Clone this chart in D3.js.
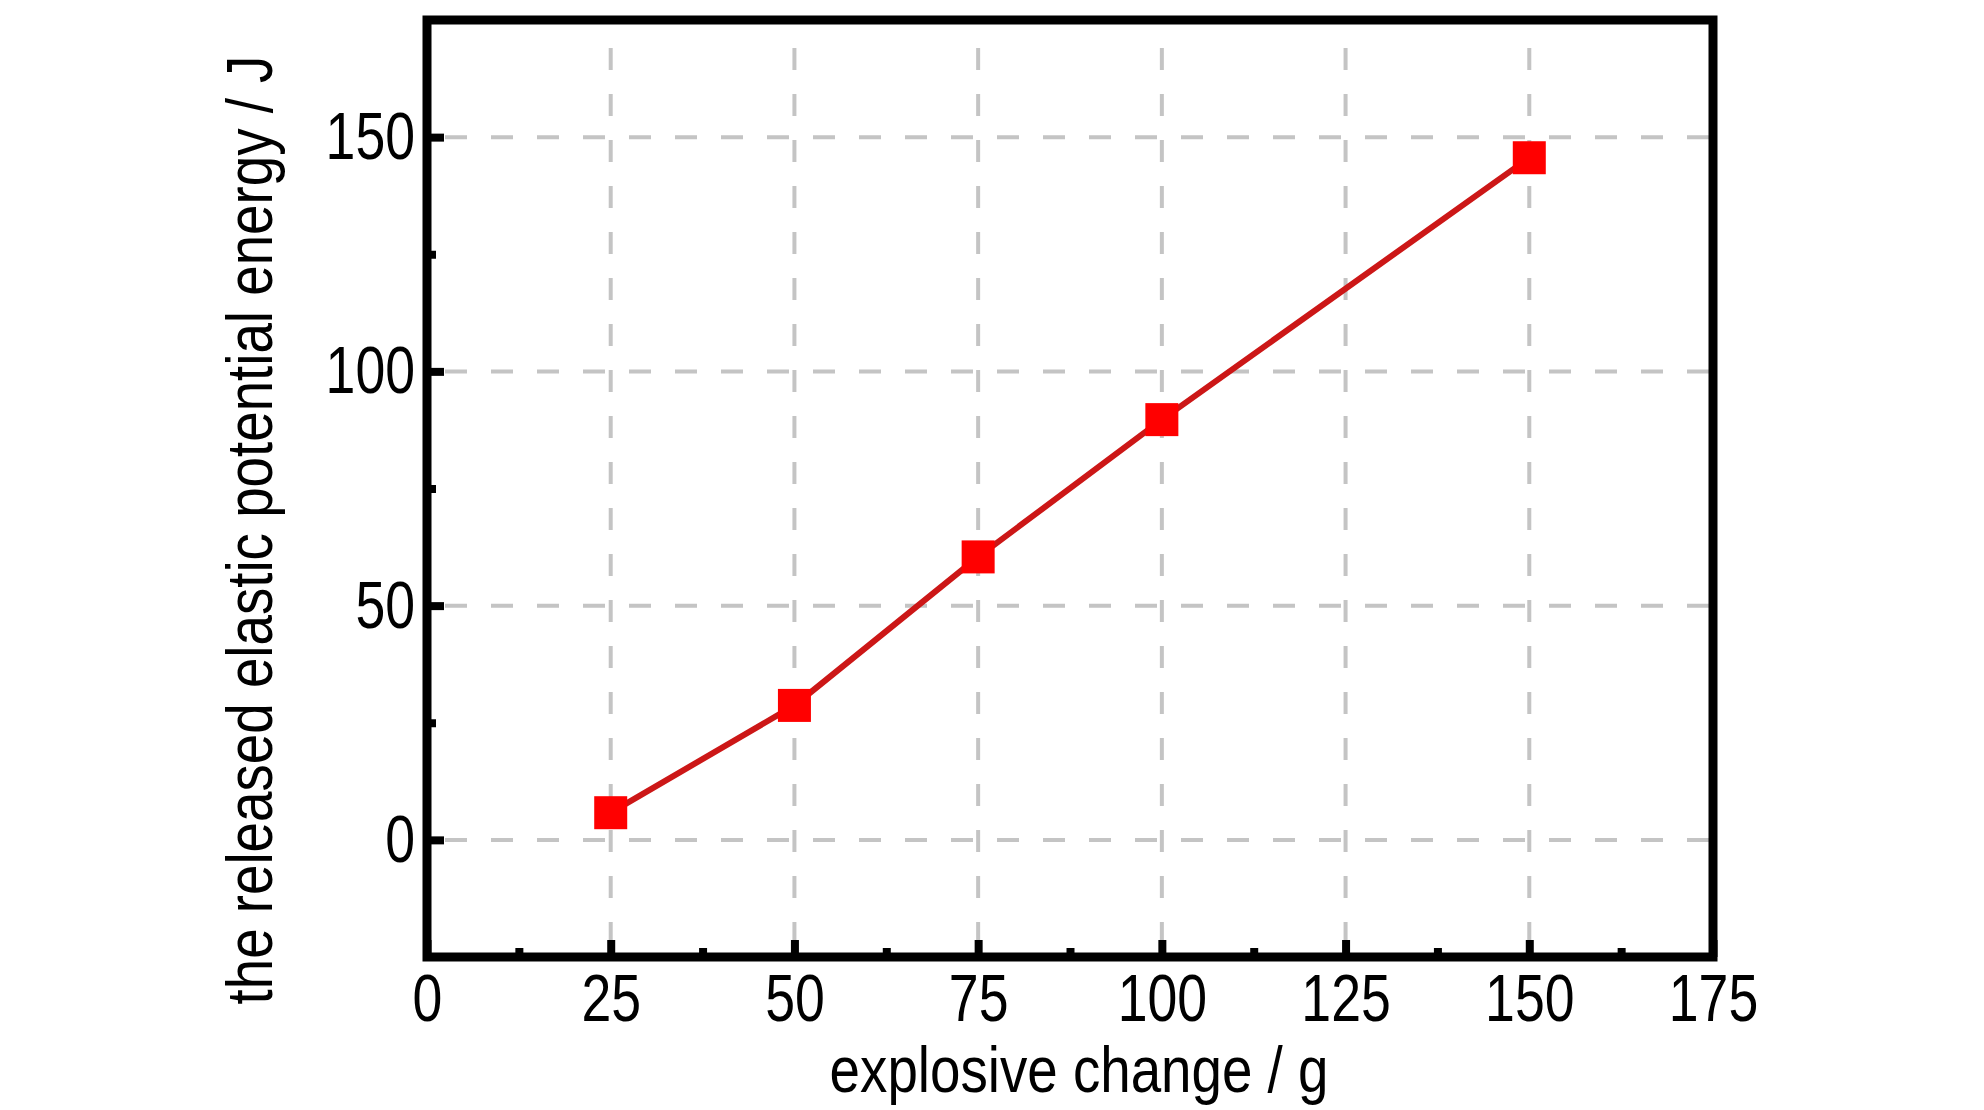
<!DOCTYPE html>
<html>
<head>
<meta charset="utf-8">
<script src="https://cdn.jsdelivr.net/npm/d3@7"></script>
<style>
  html, body { margin: 0; padding: 0; background: #fff; }
  svg { display: block; font-family: "Liberation Sans", Arial, sans-serif; }
</style>
</head>
<body>
<svg id="chart" width="1984" height="1110"></svg>
<script>
// ---- data ----
const charges = [25, 50, 75, 100, 150];            // explosive change / g
const energies = [5.8, 28.7, 60.4, 89.7, 145.6];   // released elastic potential energy / J
const xTicks = [0, 25, 50, 75, 100, 125, 150, 175];
const xMinorTicks = [12.5, 37.5, 62.5, 87.5, 112.5, 137.5, 162.5];
const yTicks = [0, 50, 100, 150];
const yMinorTicks = [25, 75, 125];
const xGrid = [25, 50, 75, 100, 125, 150];
const yGrid = [0, 50, 100, 150];
const xLabel = "explosive change / g";
const yLabel = "the released elastic potential energy / J";

// ---- layout ----
const svg = d3.select("#chart");
const L = 427, R = 1713, T = 20, B = 957;
const x = d3.scaleLinear().domain([0, 175]).range([L, R]);
const y = d3.scaleLinear().domain([-25, 175]).range([B, T]);

svg.append("rect").attr("width", 1984).attr("height", 1110).attr("fill", "#fff");

// grid
const grid = svg.append("g").attr("stroke", "#c4c4c4").attr("stroke-width", 4)
  .attr("stroke-dasharray", "22,24");
grid.selectAll("line.v").data(xGrid).enter().append("line")
  .attr("class", "v")
  .attr("x1", d => x(d)).attr("x2", d => x(d))
  .attr("y1", T + 28).attr("y2", B - 4);
grid.selectAll("line.h").data(yGrid).enter().append("line")
  .attr("class", "h")
  .attr("x1", R - 4).attr("x2", L + 4)
  .attr("y1", d => y(d)).attr("y2", d => y(d));

// axes (ticks inside)
const fmt = d3.format("d");
const xAxis = svg.append("g").attr("transform", `translate(0,${B})`)
  .call(d3.axisBottom(x).tickValues(xTicks).tickFormat(fmt).tickSizeInner(-17).tickSizeOuter(0).tickPadding(16));
const xMinor = svg.append("g").attr("transform", `translate(0,${B})`)
  .call(d3.axisBottom(x).tickValues(xMinorTicks).tickFormat("").tickSizeInner(-9).tickSizeOuter(0));
const yAxis = svg.append("g").attr("transform", `translate(${L},0)`)
  .call(d3.axisLeft(y).tickValues(yTicks).tickFormat(fmt).tickSizeInner(-17).tickSizeOuter(0).tickPadding(12));
const yMinor = svg.append("g").attr("transform", `translate(${L},0)`)
  .call(d3.axisLeft(y).tickValues(yMinorTicks).tickFormat("").tickSizeInner(-9).tickSizeOuter(0));

[xAxis, xMinor, yAxis, yMinor].forEach(g => {
  g.select(".domain").remove();
  g.selectAll(".tick line").attr("stroke", "#000").attr("stroke-width", 8);
});

xAxis.selectAll(".tick text")
  .attr("fill", "#000").attr("font-size", 67)
  .attr("transform", "scale(0.8,1)");
yAxis.selectAll(".tick text")
  .attr("fill", "#000").attr("font-size", 67)
  .attr("x", 0)
  .attr("transform", "translate(-12,0) scale(0.8,1)");

// frame
svg.append("rect")
  .attr("x", L).attr("y", T).attr("width", R - L).attr("height", B - T)
  .attr("fill", "none").attr("stroke", "#000").attr("stroke-width", 9);

// data line
const pts = charges.map((c, i) => [c, energies[i]]);
svg.append("path")
  .datum(pts)
  .attr("fill", "none")
  .attr("stroke", "#cc1717")
  .attr("stroke-width", 6)
  .attr("d", d3.line().x(d => x(d[0])).y(d => y(d[1])));

// markers
const ms = 33;
svg.selectAll("rect.mk").data(pts).enter().append("rect")
  .attr("class", "mk")
  .attr("x", d => x(d[0]) - ms / 2)
  .attr("y", d => y(d[1]) - ms / 2)
  .attr("width", ms).attr("height", ms)
  .attr("fill", "#ff0000");

// axis labels
svg.append("text")
  .attr("transform", "translate(1079,1092) scale(0.855,1)")
  .attr("text-anchor", "middle")
  .attr("font-size", 64).attr("fill", "#000")
  .text(xLabel);

svg.append("text")
  .attr("transform", "translate(272,530) rotate(-90) scale(0.855,1)")
  .attr("text-anchor", "middle")
  .attr("font-size", 64).attr("fill", "#000")
  .text(yLabel);
</script>
</body>
</html>
